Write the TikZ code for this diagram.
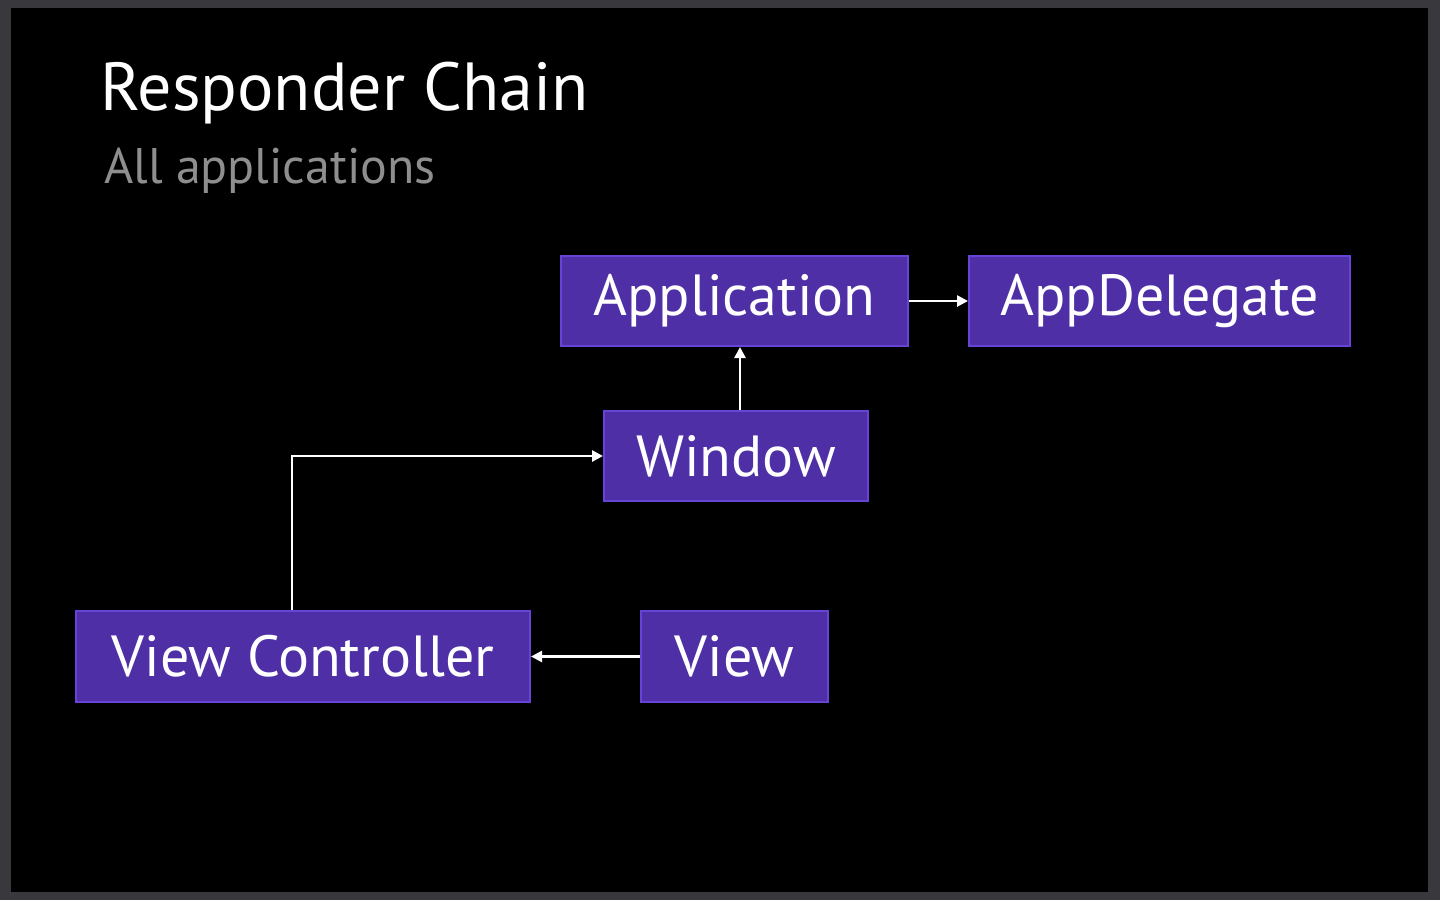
\documentclass[tikz,border=0pt]{standalone}
\usepackage{fontspec}
\setmainfont{PT Sans}
\usetikzlibrary{arrows.meta}
\definecolor{frame}{HTML}{38383D}
\definecolor{boxfill}{HTML}{4E2FA5}
\definecolor{boxline}{HTML}{6644D6}
\definecolor{subgray}{HTML}{8E8E8E}
\begin{document}
\begin{tikzpicture}[x=1pt,y=-1pt,
  box/.style={draw=boxline,fill=boxfill,line width=2pt,text=white,minimum height=90pt,inner sep=0pt,font=\fontsize{58}{58}\selectfont,anchor=center},
  link/.style={draw=white,line width=2.6pt,-{Triangle[length=11pt,width=11pt]}}]
\fill[frame] (0,0) rectangle (1440,900);
\fill[black] (11,8) rectangle (1428,892);
\useasboundingbox (0,0) rectangle (1440,900);
\node[anchor=base west,text=white,font=\fontsize{68}{68}\selectfont,inner sep=0pt] (title) at (100,110) {Responder Chain};
\node[anchor=base west,text=subgray,font=\fontsize{50}{50}\selectfont,inner sep=0pt] (sub) at (104,183) {All applications};
\node[box,minimum width=347pt] (app) at (734.5,301) {Application};
\node[box,minimum width=381pt] (del) at (1159.5,301) {AppDelegate};
\node[box,minimum width=264pt] (win) at (736,456) {Window};
\node[box,minimum width=454pt,minimum height=91pt] (vc) at (303,656.5) {View Controller};
\node[box,minimum width=187pt,minimum height=91pt] (view) at (734.5,656.5) {View};
\draw[link] (app.east) -- (del.west);
\draw[link] (win.north -| 740,0) -- (app.south -| 740,0);
\draw[link] (vc.north -| 292,0) |- (win.west);
\draw[link] (view.west) -- (vc.east);
\end{tikzpicture}
\end{document}
